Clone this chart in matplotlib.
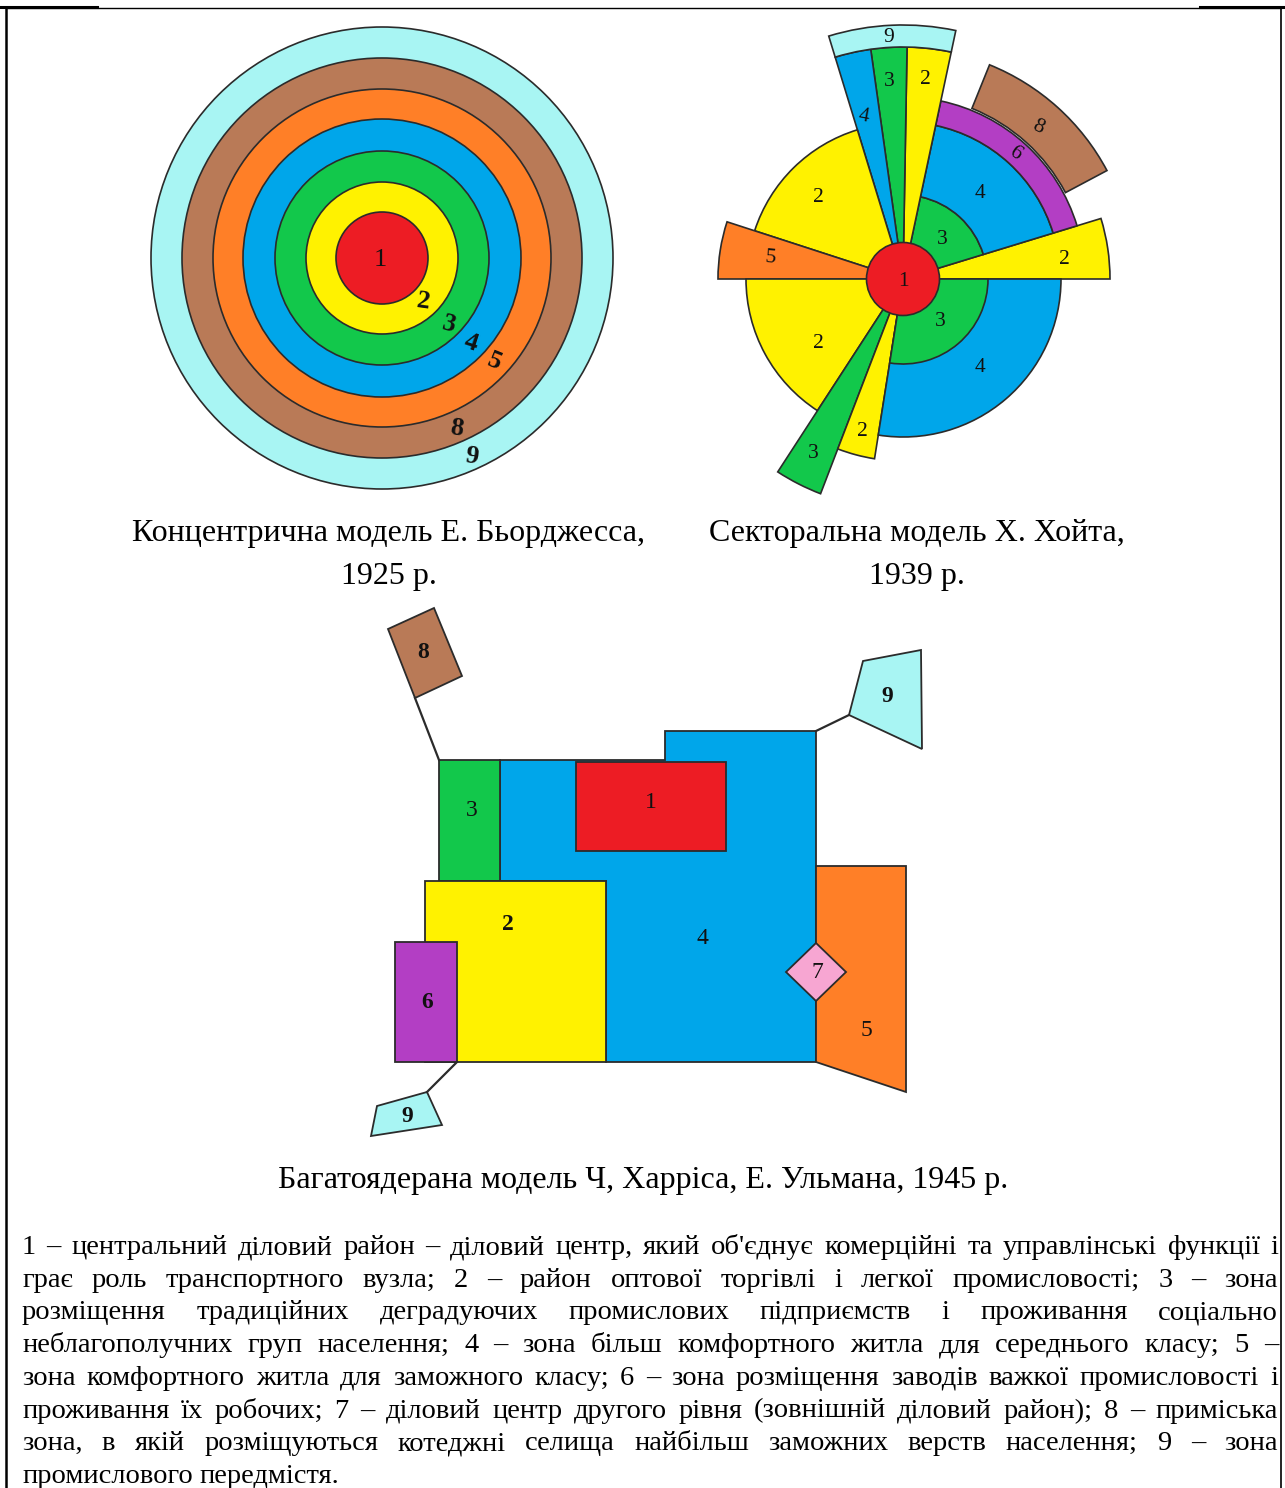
import matplotlib
matplotlib.use("Agg")
import matplotlib.pyplot as plt
from matplotlib.patches import Circle, Wedge, Polygon

W, H = 1285, 1488
SERIF = ["Liberation Serif", "DejaVu Serif"]
EDGE = "#2b2b2b"

# colours of the zones
C = {
    1: "#ED1C24", 2: "#FFF200", 3: "#12C84B", 4: "#00A6EA", 5: "#FF7F27",
    6: "#B33EC4", 7: "#F7A6D2", 8: "#B97A57", 9: "#A8F5F3",
}

# ---------------- concentric model (Burgess) ----------------
conc_center = (382, 258)
conc_zones = [9, 8, 5, 4, 3, 2, 1]
conc_radii = [231, 200, 169, 139, 107, 76, 46]
conc_labels = ["1", "2", "3", "4", "5", "8", "9"]
conc_label_xy = [(380, 260), (423, 301), (449, 324), (471, 343), (494, 361), (457, 428), (472, 456)]
conc_label_rot = [0, -8, -15, -18, -22, -8, -8]

# ---------------- sectoral model (Hoyt) ----------------
sect_center = (903, 279)
# (visual angle start, end, inner radius, outer radius, zone)
sect_zone = [2, 3, 4, 6, 8, 2, 3, 4, 9, 2, 5, 2, 3, 2, 4, 3]
sect_theta1 = [0, 17, 17, 17, 28, 78, 89, 98, 78, 107, 162, 180, 237, 249, 261, 261]
sect_theta2 = [17, 78, 78, 78, 68, 89, 98, 107, 107, 162, 180, 237, 249, 261, 360, 360]
sect_rin = [0, 0, 84, 157, 184, 0, 0, 0, 232, 0, 0, 0, 0, 0, 0, 0]
sect_rout = [207, 84, 157, 182, 231, 232, 232, 232, 254, 156, 185, 157, 230, 182, 158, 85]
sect_core_r = 36.5
sect_labels = ["9", "4", "3", "2", "8", "6", "4", "2", "3", "2", "5", "1", "3", "2", "4", "2", "3"]
sect_label_xy = [(889, 37), (864, 117), (889, 82), (925, 80), (1038, 127), (1015, 153), (980, 193),
                 (818, 198), (942, 239), (1064, 259), (770, 258), (903, 281), (940, 322),
                 (818, 343), (980, 367), (862, 432), (813, 453)]
sect_label_rot = [0, -10, 0, 0, -25, -35, 0, 0, 0, 0, -5, 0, 0, 0, 0, 0, 0]

# ---------------- multiple-nuclei model (Harris & Ullman) ----------------
mn_shapes = {
    "4": [(500, 760), (665, 760), (665, 731), (816, 731), (816, 1062), (606, 1062), (606, 881), (500, 881)],
    "1": [(576, 762), (726, 762), (726, 851), (576, 851)],
    "3": [(439, 760), (500, 760), (500, 881), (439, 881)],
    "2": [(425, 881), (606, 881), (606, 1062), (425, 1062)],
    "6": [(395, 942), (457, 942), (457, 1062), (395, 1062)],
    "5": [(816, 866), (906, 866), (906, 1092), (816, 1062)],
    "7": [(816, 943), (846, 972), (816, 1001), (786, 972)],
    "8": [(388, 629), (434, 608), (462, 676), (415, 698)],
    "9a": [(849, 715), (863, 661), (921, 650), (922, 749)],
    "9b": [(427, 1092), (442, 1125), (371, 1136), (377, 1106)],
}
mn_zone = {"4": 4, "1": 1, "3": 3, "2": 2, "6": 6, "5": 5, "7": 7, "8": 8, "9a": 9, "9b": 9}
mn_links = [[(415, 698), (439, 760)], [(816, 731), (849, 715)], [(457, 1062), (427, 1092)]]
mn_labels = ["1", "2", "3", "4", "5", "6", "7", "8", "9", "9"]
mn_label_xy = [(651, 803), (508, 924), (472, 810), (702, 939), (866, 1030), (427, 1003),
               (817, 973), (423, 653), (887, 697), (407, 1117)]
mn_label_bold = [False, True, False, False, False, True, False, True, True, True]

# ---------------- texts ----------------
captions = [
    ("Концентрична модель Е. Бьорджесса,", 389, 541),
    ("1925 р.", 389, 584),
    ("Секторальна модель Х. Хойта,", 917, 541),
    ("1939 р.", 917, 584),
    ("Багатоядерана модель Ч, Харріса, Е. Ульмана, 1945 р.", 643, 1188),
]
legend_lines = [
    "1 – центральний діловий район – діловий центр, який об'єднує комерційні та управлінські функції і",
    "грає роль транспортного вузла; 2 – район оптової торгівлі і легкої промисловості; 3 – зона",
    "розміщення традиційних деградуючих промислових підприємств і проживання соціально",
    "неблагополучних груп населення; 4 – зона більш комфортного житла для середнього класу; 5 –",
    "зона комфортного житла для заможного класу; 6 – зона розміщення заводів важкої промисловості і",
    "проживання їх робочих; 7 – діловий центр другого рівня (зовнішній діловий район); 8 – приміська",
    "зона, в якій розміщуються котеджні селища найбільш заможних верств населення; 9 – зона",
    "промислового передмістя.",
]

fig = plt.figure(figsize=(W / 100, H / 100), dpi=100)
ax = fig.add_axes([0, 0, 1, 1])
ax.set_xlim(0, W)
ax.set_ylim(H, 0)
ax.axis("off")

# border of the table cell
ax.plot([6, 1281], [8, 8], color="black", lw=1.0)
ax.plot([0, 97], [7, 7], color="black", lw=2.2)
ax.plot([1200, W], [7, 7], color="black", lw=2.2)
ax.plot([6, 6], [8, H], color="black", lw=1.8)
ax.plot([1281, 1281], [8, H], color="black", lw=1.2)

# concentric
for z, r in zip(conc_zones, conc_radii):
    ax.add_patch(Circle(conc_center, r, facecolor=C[z], edgecolor=EDGE, lw=1.2))
for t, (x, y), rot in zip(conc_labels, conc_label_xy, conc_label_rot):
    ax.text(x, y, t, fontsize=19, family=SERIF, ha="center", va="center", rotation=rot,
            fontweight="bold" if t != "1" else "normal", color="#111111")

# sectoral (y axis inverted: visual angle a -> data angle -a)
for z, t1, t2, ri, ro in zip(sect_zone, sect_theta1, sect_theta2, sect_rin, sect_rout):
    ax.add_patch(Wedge(sect_center, ro, -t2, -t1, width=(ro - ri) if ri > 0 else None,
                       facecolor=C[z], edgecolor=EDGE, lw=1.2))
ax.add_patch(Circle(sect_center, sect_core_r, facecolor=C[1], edgecolor=EDGE, lw=1.2))
for t, (x, y), rot in zip(sect_labels, sect_label_xy, sect_label_rot):
    ax.text(x, y, t, fontsize=15.5, family=SERIF, ha="center", va="center", rotation=rot,
            color="#111111")

# multiple nuclei
for seg in mn_links:
    ax.plot([seg[0][0], seg[1][0]], [seg[0][1], seg[1][1]], color=EDGE, lw=1.6)
for k in ["4", "1", "3", "2", "6", "5", "7", "8", "9a", "9b"]:
    ax.add_patch(Polygon(mn_shapes[k], closed=True, facecolor=C[mn_zone[k]],
                         edgecolor=EDGE, lw=1.3))
for t, (x, y), b in zip(mn_labels, mn_label_xy, mn_label_bold):
    ax.text(x, y, t, fontsize=17, family=SERIF, ha="center", va="center",
            fontweight="bold" if b else "normal", color="#111111")

# captions
for txt, x, y in captions:
    ax.text(x, y, txt, fontsize=23, family=SERIF, ha="center", va="baseline", color="black")

# justified legend paragraph
fig.canvas.draw()
renderer = fig.canvas.get_renderer()
LEG_FS = 20.5
x_left, x_right = 22, 1278
base0, step = 1254, 32.7


def text_width(s):
    t = ax.text(0, 0, s, fontsize=LEG_FS, family=SERIF)
    w = t.get_window_extent(renderer).width
    t.remove()
    return w


space_w = text_width("a a") - text_width("aa")
for i, line in enumerate(legend_lines):
    y = base0 + i * step
    words = line.split(" ")
    widths = [text_width(w) for w in words]
    if i == len(legend_lines) - 1:
        gap = space_w
    else:
        gap = (x_right - x_left - sum(widths)) / (len(words) - 1)
    x = x_left
    for w, wd in zip(words, widths):
        ax.text(x, y, w, fontsize=LEG_FS, family=SERIF, ha="left", va="baseline", color="black")
        x += wd + gap

fig.savefig("out.png", dpi=100)
